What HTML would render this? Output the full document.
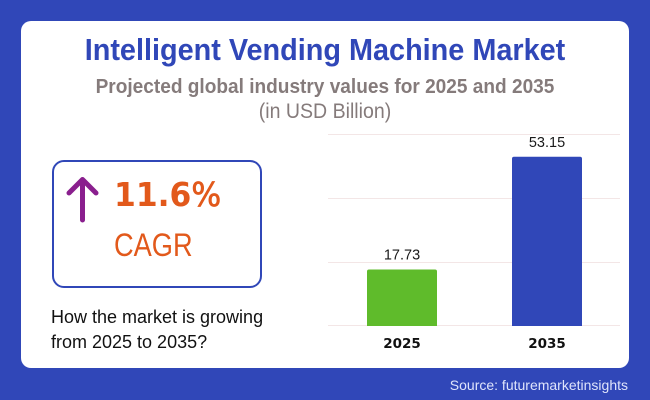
<!DOCTYPE html>
<html lang="en">
<head>
<meta charset="utf-8">
<title>Intelligent Vending Machine Market</title>
<style>
html,body{margin:0;padding:0;background:#3047b8;}
#root{position:relative;width:650px;height:400px;overflow:hidden;background:#3047b8;font-family:"Liberation Sans",sans-serif;}
#card{position:absolute;left:21px;top:21px;width:608px;height:347px;background:#fff;border-radius:10px;}
.t{position:absolute;white-space:nowrap;}
svg{position:absolute;left:0;top:0;}
</style>
</head>
<body>
<div id="root">
<div id="card"></div>
<div class="t" style="left:0;width:650px;text-align:center;top:32px;font-size:31px;line-height:36px;font-weight:bold;color:#3047b8;transform:scaleX(.93);">Intelligent Vending Machine Market</div>
<div class="t" style="left:0;width:650px;text-align:center;top:75px;font-size:20.5px;line-height:24px;font-weight:bold;color:#857b7b;transform:scaleX(.93);">Projected global industry values for 2025 and 2035</div>
<div class="t" style="left:0;width:650px;text-align:center;top:100px;font-size:21px;line-height:24px;color:#857b7b;transform:scaleX(.93);">(in USD Billion)</div>

<div style="position:absolute;left:52px;top:160px;width:206px;height:124px;border:2px solid #3047b8;border-radius:12px;"></div>
<svg width="650" height="400" style="pointer-events:none">
<path d="M82.5 220V180M69 193L82.500 179.500L96 193" fill="none" stroke="#8a1f8e" stroke-width="5" stroke-linecap="round" stroke-linejoin="round"/>
</svg>
<div class="t" style="left:114px;top:176px;font-family:'DejaVu Sans',sans-serif;font-size:33px;line-height:38px;font-weight:bold;color:#e2591b;transform-origin:left center;transform:scaleX(.95);">11.6<span style="font-weight:normal;-webkit-text-stroke:.7px #e2591b;">%</span></div>
<div class="t" style="left:114px;top:226px;font-size:32px;line-height:38px;color:#e2591b;transform-origin:left center;transform:scaleX(.85);">CAGR</div>
<div class="t" style="left:51px;top:305px;font-size:18px;line-height:25px;color:#111;">How the market is growing<br>from 2025 to 2035?</div>

<svg id="chart" width="650" height="400"></svg>
<div class="t" style="right:22px;top:376px;font-size:14px;line-height:18px;color:#dfe4fb;">Source: futuremarketinsights</div>
</div>
<script>
const categories = ['2025', '2035'];
const marketValues = [17.73, 53.15];
const valueLabels = ['17.73', '53.15'];
const gridTicks = [0, 20, 40, 60];
const barColors = ['#5fbb2b', '#3047b8'];

const NS = 'http://www.w3.org/2000/svg';
const svg = document.getElementById('chart');
const plotLeft = 328, plotRight = 620, bandLeft = 329.5, bandRight = 619.5, plotBottom = 326, plotTop = 135, domainMax = 60, barWidth = 70;
function yScale(v) { return plotBottom - (v / domainMax) * (plotBottom - plotTop); }
function xCenter(i) { return bandLeft + (bandRight - bandLeft) * (i + 0.5) / categories.length; }
function mk(tag, attrs, txt) {
  const el = document.createElementNS(NS, tag);
  for (const k in attrs) el.setAttribute(k, attrs[k]);
  if (txt !== undefined) el.textContent = txt;
  svg.appendChild(el);
  return el;
}
gridTicks.forEach(function (t) {
  const y = Math.floor(yScale(t) - 0.3) + 0.5;
  const line = mk('line', { x1: plotLeft, x2: plotRight, y1: y, y2: y, stroke: '#f3e6e6', 'stroke-width': 1 });
  
  
});
categories.forEach(function (c, i) {
  const cx = xCenter(i);
  const top = yScale(marketValues[i]);
  const bar = mk('path', {
    d: 'M' + (cx - barWidth / 2) + ' ' + plotBottom + 'V' + (top + 2) + 'q0 -2 2 -2H' + (cx + barWidth / 2 - 2) + 'q2 0 2 2V' + plotBottom + 'Z',
    fill: barColors[i]
  });
  
  
  const val = mk('text', { x: cx, y: top - 10, 'text-anchor': 'middle', 'font-family': '"Liberation Sans",sans-serif', 'font-size': 14.5, fill: '#1a1a1a' }, valueLabels[i]);
  
  
  const lab = mk('text', { x: cx, y: 348, 'text-anchor': 'middle', 'font-family': '"DejaVu Sans",sans-serif', 'font-weight': 'bold', 'font-size': 13.5, fill: '#111' }, c);
  
  
});
</script>
</body>
</html>
